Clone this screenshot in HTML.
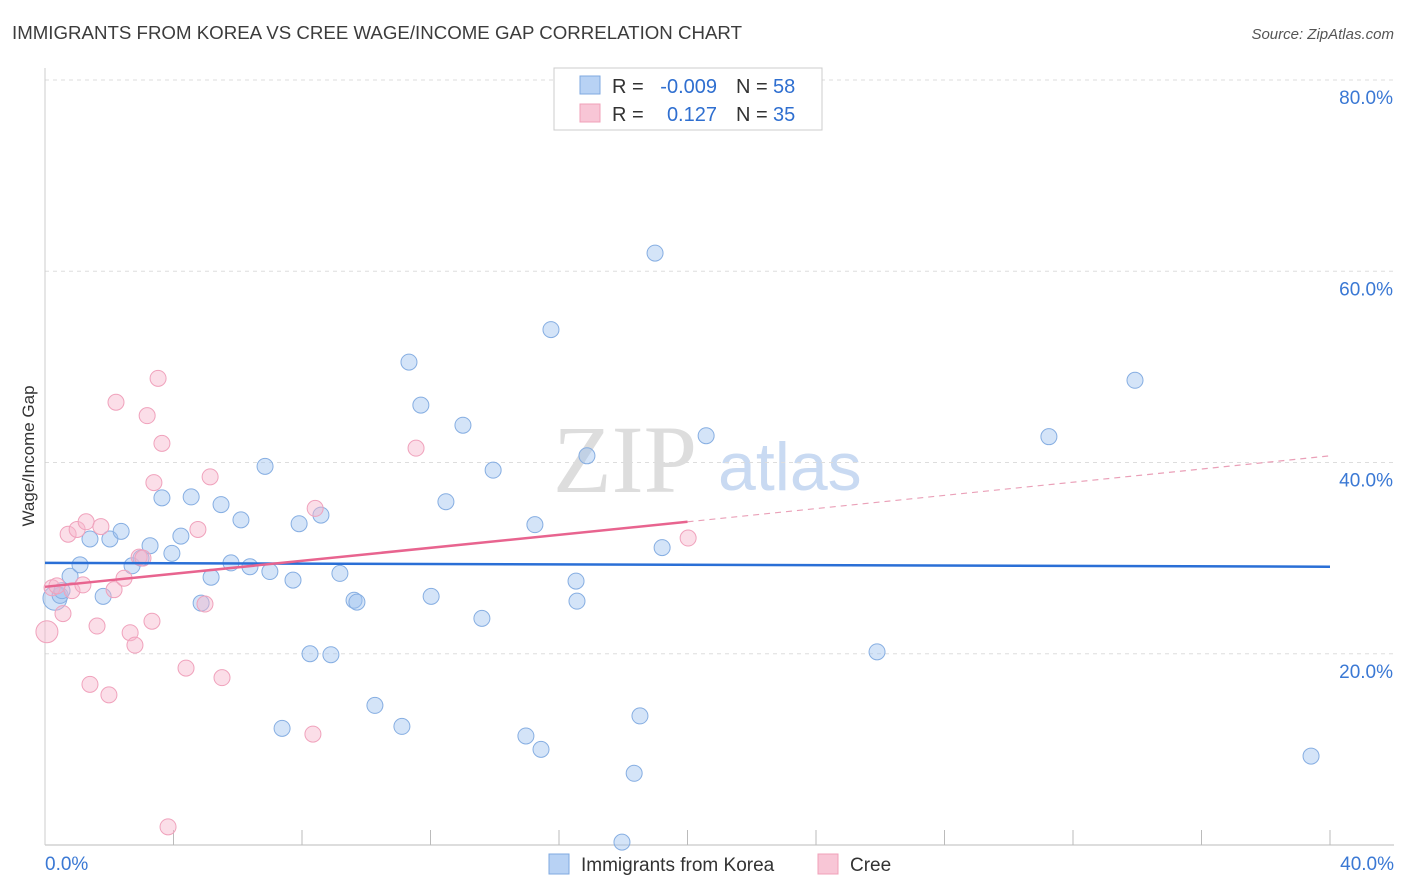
<!DOCTYPE html>
<html><head><meta charset="utf-8"><style>
body{margin:0;background:#fff;font-family:"Liberation Sans",sans-serif}
svg{display:block}
</style></head><body>
<svg id="c" width="1406" height="892" xmlns="http://www.w3.org/2000/svg">
<text x="12" y="39" font-size="18.5" fill="#3c3c3c" textLength="730" lengthAdjust="spacingAndGlyphs">IMMIGRANTS FROM KOREA VS CREE WAGE/INCOME GAP CORRELATION CHART</text>
<text x="1394" y="39" font-size="15" fill="#555" font-style="italic" text-anchor="end">Source: ZipAtlas.com</text>
<text x="34" y="456" font-size="17" fill="#333" text-anchor="middle" transform="rotate(-90 34 456)">Wage/Income Gap</text>
<g><text x="553" y="492" font-size="96" fill="#ddd" font-family="Liberation Serif">ZIP</text><text x="718" y="490" font-size="68" fill="#c9daf2">atlas</text></g>
<g id="grid"></g><g id="axes"></g><g id="pts"></g><g id="lines"></g>
<g>
<rect x="554" y="68" width="268" height="62" fill="#fff" stroke="#ccc"/>
<rect x="580" y="76" width="20" height="18" fill="#b8d2f4" stroke="#7fa9e0"/>
<rect x="580" y="104" width="20" height="18" fill="#f8c6d6" stroke="#f0a0b8"/>
<g font-size="20" fill="#333">
<text x="612" y="93">R =</text>
<text x="717" y="93" fill="#2f6fd0" text-anchor="end">-0.009</text>
<text x="736" y="93">N =</text>
<text x="773" y="93" fill="#2f6fd0">58</text>
<text x="612" y="121">R =</text>
<text x="717" y="121" fill="#2f6fd0" text-anchor="end">0.127</text>
<text x="736" y="121">N =</text>
<text x="773" y="121" fill="#2f6fd0">35</text>
</g>
</g>
<g>
<rect x="549" y="854" width="20" height="20" fill="#b8d2f4" stroke="#7fa9e0"/>
<text x="581" y="871" font-size="19" fill="#333">Immigrants from Korea</text>
<rect x="818" y="854" width="20" height="20" fill="#f8c6d6" stroke="#f0a0b8"/>
<text x="850" y="871" font-size="19" fill="#333">Cree</text>
</g>
</svg>
<script>
const yTicks=[20,40,60,80];
const yTickLabels=["20.0%","40.0%","60.0%","80.0%"];
const xTickCount=10;
const koreaX=[0.31,0.47,0.53,0.78,1.09,1.40,1.81,2.02,2.37,2.71,2.99,3.27,3.64,3.95,4.23,4.55,4.86,5.17,5.48,5.79,6.10,6.38,6.85,7.00,7.38,7.72,7.91,8.25,8.59,8.90,9.18,9.62,9.71,10.27,11.11,11.33,11.70,12.02,12.48,13.01,13.60,13.95,14.97,15.25,15.44,15.75,16.53,16.56,16.87,17.96,18.34,18.52,18.99,19.21,20.58,25.90,31.25,33.93,39.41];
const koreaY=[25.8,26.1,26.6,28.1,29.3,32.0,26.0,32.0,32.8,29.2,30.0,31.3,36.3,30.5,32.3,36.4,25.3,28.0,35.6,29.5,34.0,29.1,39.6,28.6,12.2,27.7,33.6,20.0,34.5,19.9,28.4,25.6,25.4,14.6,12.4,50.5,46.0,26.0,35.9,43.9,23.7,39.2,11.4,33.5,10.0,53.9,27.6,25.5,40.7,0.3,7.5,13.5,61.9,31.1,42.8,20.2,42.7,48.6,9.3];
const creeX=[0.06,0.22,0.37,0.56,0.72,0.84,1.00,1.18,1.28,1.40,1.62,1.74,1.99,2.21,2.15,2.46,2.65,2.80,2.93,3.05,3.18,3.33,3.39,3.52,3.64,3.83,4.39,4.76,4.98,5.14,5.51,8.34,8.41,11.55,20.02];
const creeY=[22.3,26.9,27.1,24.2,32.5,26.6,33.0,27.2,33.8,16.8,22.9,33.3,15.7,46.3,26.7,27.9,22.2,20.9,30.1,30.0,44.9,23.4,37.9,48.8,42.0,1.9,18.5,33.0,25.2,38.5,17.5,11.6,35.2,41.5,32.1];
const koreaTrend=[29.5,29.1];
const creeTrend=[27.0,33.8,40.7];
const NS="http://www.w3.org/2000/svg";
const X=v=>45+v/40*1285, Y=v=>845-v/80*765;
function mk(t,a,p){const e=document.createElementNS(NS,t);for(const k in a)e.setAttribute(k,a[k]);p.appendChild(e);return e;}
const grid=document.getElementById('grid'),axes=document.getElementById('axes'),pts=document.getElementById('pts'),lines=document.getElementById('lines');
yTicks.forEach((v,i)=>{
 const l=mk('line',{x1:45,x2:1394,y1:Y(v),y2:Y(v),stroke:'#ddd','stroke-dasharray':'4,4'},grid);
 
 
 const t=mk('text',{x:1393,y:Y(v)+24,'font-size':19,fill:'#3a78d4','text-anchor':'end'},axes);
 t.textContent=yTickLabels[i];
 
 
});
const ax=mk('line',{x1:45,x2:1394,y1:845,y2:845,stroke:'#bbb'},axes);


const ay=mk('line',{x1:45,x2:45,y1:68,y2:845,stroke:'#ccc'},axes);


for(let i=1;i<=xTickCount;i++){const x=45+i*128.5;const tk=mk('line',{x1:x,x2:x,y1:830,y2:845,stroke:'#bbb'},axes);
 
 }
[[45,'start','0.0%'],[1394,'end','40.0%']].forEach(d=>{const t=mk('text',{x:d[0],y:870,'font-size':19,fill:'#3a78d4','text-anchor':d[1]},axes);t.textContent=d[2];
 
 });
koreaX.forEach((v,i)=>{const c=mk('circle',{cx:X(v),cy:Y(koreaY[i]),r:i==0?12:8,fill:'rgba(160,196,240,0.45)',stroke:'#86aee2','stroke-width':1},pts);
 
 });
creeX.forEach((v,i)=>{const c=mk('circle',{cx:X(v),cy:Y(creeY[i]),r:i==0?11:8,fill:'rgba(246,182,204,0.45)',stroke:'#f0a2bc','stroke-width':1},pts);
 
 });
const kl=mk('line',{x1:X(0),x2:X(40),y1:Y(koreaTrend[0]),y2:Y(koreaTrend[1]),stroke:'#2a6fd6','stroke-width':2.5},lines);


const cl=mk('line',{x1:X(0),x2:X(20),y1:Y(creeTrend[0]),y2:Y(creeTrend[1]),stroke:'#e8648f','stroke-width':2.5},lines);


const cd=mk('line',{x1:X(20),x2:X(40),y1:Y(creeTrend[1]),y2:Y(creeTrend[2]),stroke:'#eaa0b8','stroke-width':1.2,'stroke-dasharray':'6,5'},lines);


</script>
</body></html>
